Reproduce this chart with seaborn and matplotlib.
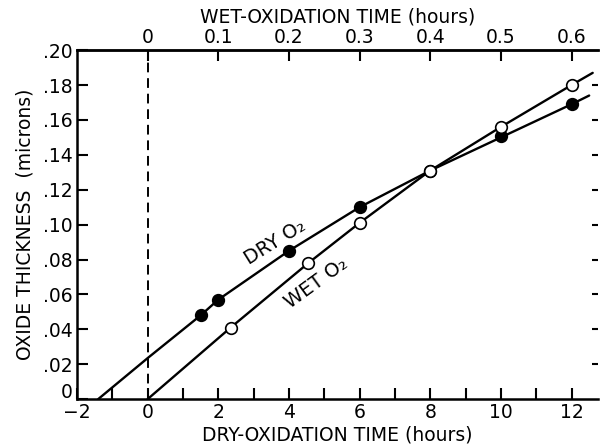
import numpy as np
import pandas as pd
import seaborn as sns
import matplotlib
matplotlib.use("Agg")
import matplotlib.pyplot as plt
import matplotlib.transforms as mtransforms
from matplotlib.ticker import MultipleLocator, FuncFormatter

dry_time = [1.5, 2, 4, 6, 8, 10, 12]
dry_thick = [0.048, 0.057, 0.085, 0.110, 0.131, 0.151, 0.169]
wet_time = [2.35, 4.55, 6, 8, 10, 12]
wet_thick = [0.041, 0.078, 0.101, 0.131, 0.156, 0.180]

# 曲線
dry_curve_t = [-1.40, 0, 1.5, 2, 4, 6, 8, 10, 12, 12.5]
dry_curve_y = [0, 0.0235, 0.048, 0.057, 0.085, 0.110, 0.131, 0.150, 0.169, 0.174]
wet_curve_t = [0, 2.35, 4.55, 6, 8, 10, 12, 12.6]
wet_curve_y = [0, 0.041, 0.078, 0.101, 0.131, 0.156, 0.180, 0.187]

# 軸目盛
x_ticks = [-2, 0, 2, 4, 6, 8, 10, 12]
y_ticks = [0, 0.02, 0.04, 0.06, 0.08, 0.10, 0.12, 0.14, 0.16, 0.18, 0.20]
top_ticks = [0, 0.1, 0.2, 0.3, 0.4, 0.5, 0.6]
top_labels = ["0", "0.1", "0.2", "0.3", "0.4", "0.5", "0.6"]

sns.set_style("ticks")
plt.rcParams["font.family"] = ["DejaVu Sans"]
plt.rcParams["text.color"] = "black"
plt.rcParams["axes.labelcolor"] = "black"
plt.rcParams["xtick.color"] = "black"
plt.rcParams["ytick.color"] = "black"

fig = plt.figure(figsize=(6.01, 4.48), dpi=100)
ax = fig.add_axes([0.128, 0.109, 0.867, 0.779])

# 曲線
sns.lineplot(x=dry_curve_t, y=dry_curve_y, sort=False, estimator=None,
             color="black", lw=1.7, ax=ax)
sns.lineplot(x=wet_curve_t, y=wet_curve_y, sort=False, estimator=None,
             color="black", lw=1.7, ax=ax)

# 点
sns.scatterplot(x=dry_time, y=dry_thick, color="black", edgecolor="black",
                s=70, linewidth=1.2, zorder=3, ax=ax)
sns.scatterplot(x=wet_time, y=wet_thick, color="white", edgecolor="black",
                s=70, linewidth=1.2, zorder=3, ax=ax)

ax.axvline(0, color="black", lw=1.4, ls=(0, (5, 3)))

ax.set_xlim(-2, 12.75)
ax.set_ylim(0, 0.20)
ax.set_xticks(x_ticks)
ax.xaxis.set_minor_locator(MultipleLocator(1))
ax.set_yticks(y_ticks)
ax.yaxis.set_major_formatter(FuncFormatter(lambda v, p: "0" if v == 0 else f"{v:.2f}"[1:]))
ax.tick_params(axis="both", which="both", direction="in", length=8, width=1.5,
               labelsize=13.5, pad=3, colors="black")
ax.spines["right"].set_visible(False)
for s in ["left", "bottom", "top"]:
    ax.spines[s].set_linewidth(1.8)
    ax.spines[s].set_color("black")

ax.set_xlabel("DRY-OXIDATION TIME (hours)", fontsize=13.5, labelpad=2)
ax.set_ylabel("OXIDE THICKNESS  (microns)", fontsize=13.5, labelpad=6)

# y=0 のラベルを少し上へ
zero_label = ax.get_yticklabels()[0]
zero_label.set_transform(zero_label.get_transform() +
                         mtransforms.ScaledTranslation(0, 6 / 72, fig.dpi_scale_trans))

# 上側の軸 (湿式酸化時間)
top = ax.secondary_xaxis("top", functions=(lambda x: x / 20, lambda x: x * 20))
top.set_xticks(top_ticks)
top.set_xticklabels(top_labels)
top.tick_params(direction="in", length=8, width=1.5, labelsize=13.5, pad=2, colors="black")
top.spines["top"].set_linewidth(1.8)
top.set_xlabel("WET-OXIDATION TIME (hours)", fontsize=13.5, labelpad=4)

# 右側の短い目盛
right = ax.secondary_yaxis("right")
right.set_yticks(y_ticks[1:-1])
right.set_yticklabels([])
right.tick_params(direction="in", length=4, width=1.5, colors="black")
right.spines["right"].set_visible(False)

# 曲線のラベル
ax.text(3.62, 0.090, "DRY O₂", rotation=32, fontsize=14, ha="center", va="center")
ax.text(4.78, 0.0665, "WET O₂", rotation=36, fontsize=14, ha="center", va="center")

plt.savefig("out.png", dpi=100)
